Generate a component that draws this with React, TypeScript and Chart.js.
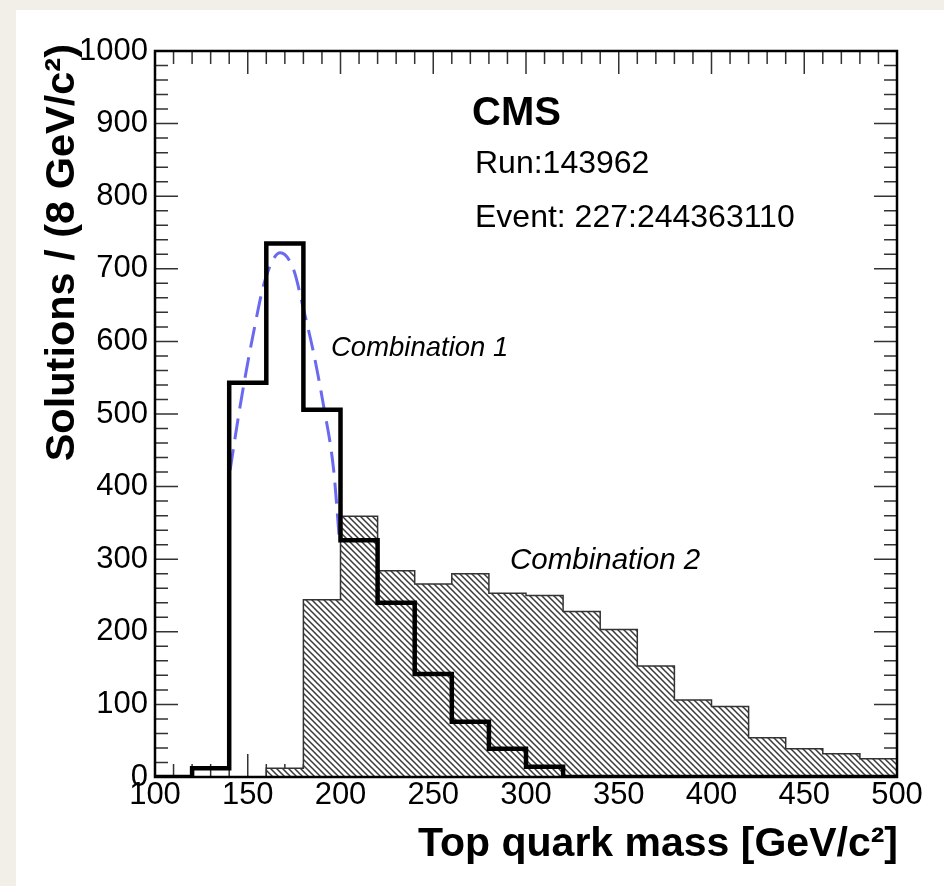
import React, { useEffect, useRef } from "react";
import { Chart, registerables } from "chart.js";

Chart.register(...registerables);

// ---- data ----
const binLeftEdges = [100, 120, 140, 160, 180, 200, 220, 240, 260, 280, 300, 320, 340, 360, 380, 400, 420, 440, 460, 480];
const histUpperEdge = 500;
const comb1Counts = [0, 12, 543, 735, 506, 326, 240, 142, 76, 39, 14, 0, 0, 0, 0, 0, 0, 0, 0, 0];
const comb2Counts = [0, 0, 0, 12, 244, 359, 284, 266, 280, 253, 250, 228, 203, 153, 106, 97, 54, 39, 32, 25];
const fitMass = [140.5, 145.9, 153.1, 159.4, 167.5, 174.7, 180.1, 185.5, 190.9, 196.3, 199.5];
const fitValues = [423, 511, 612, 685, 722, 699, 644, 584, 511, 423, 324];

const xMin = 100;
const xMax = 500;
const xMajorStep = 50;
const xMinorStep = 10;
const yMin = 0;
const yMax = 1000;
const yMajorStep = 100;
const yMinorStep = 20;

const xTitle = "Top quark mass [GeV/c\u00B2]";
const yTitle = "Solutions / (8 GeV/c\u00B2)";
const experimentLabel = "CMS";
const runLabel = "Run:143962";
const eventLabel = "Event: 227:244363110";
const comb1Label = "Combination 1";
const comb2Label = "Combination 2";

const FONT = '"Liberation Sans", Arial, Helvetica, sans-serif';

// points at bin edges; value of bin i is held from edge i to edge i+1
function stepPoints(counts: number[]) {
  const pts = binLeftEdges.map((x, i) => ({ x, y: counts[i] }));
  pts.push({ x: histUpperEdge, y: counts[counts.length - 1] });
  return pts;
}

function makeHatch(): CanvasPattern | string {
  const s = 6;
  const c = document.createElement("canvas");
  c.width = s;
  c.height = s;
  const g = c.getContext("2d");
  if (!g) return "#999";
  g.fillStyle = "#ffffff";
  g.fillRect(0, 0, s, s);
  g.strokeStyle = "#3a3a3a";
  g.lineWidth = 1.5;
  g.beginPath();
  g.moveTo(-1, -1);
  g.lineTo(s + 1, s + 1);
  g.moveTo(-1, s - 1);
  g.lineTo(1, s + 1);
  g.moveTo(s - 1, -1);
  g.lineTo(s + 1, 1);
  g.stroke();
  return g.createPattern(c, "repeat") || "#999";
}

const rootAxesPlugin = {
  id: "rootAxes",
  beforeDatasetsDraw(chart: any) {
    const { ctx, chartArea: a, scales } = chart;
    const xs = scales.x;
    const ys = scales.y;
    ctx.save();
    ctx.strokeStyle = "#333";
    ctx.lineWidth = 1.5;
    ctx.beginPath();
    for (let v = yMin; v <= yMax; v += yMinorStep) {
      const len = v % yMajorStep === 0 ? 23 : 13;
      const py = ys.getPixelForValue(v);
      ctx.moveTo(a.left, py);
      ctx.lineTo(a.left + len, py);
      ctx.moveTo(a.right, py);
      ctx.lineTo(a.right - len, py);
    }
    for (let v = xMin; v <= xMax; v += xMinorStep) {
      const len = v % xMajorStep === 0 ? 23 : 13;
      const px = xs.getPixelForValue(v);
      ctx.moveTo(px, a.bottom);
      ctx.lineTo(px, a.bottom - len);
      ctx.moveTo(px, a.top);
      ctx.lineTo(px, a.top + len);
    }
    ctx.stroke();
    ctx.restore();
  },
  afterDatasetsDraw(chart: any) {
    const { ctx, chartArea: a } = chart;
    ctx.save();
    ctx.strokeStyle = "#000";
    ctx.lineWidth = 2.5;
    ctx.strokeRect(a.left, a.top, a.right - a.left, a.bottom - a.top);
    ctx.restore();
  },
  afterDraw(chart: any) {
    const { ctx } = chart;
    ctx.save();
    ctx.fillStyle = "#000";
    ctx.textBaseline = "alphabetic";
    ctx.textAlign = "left";
    ctx.font = `bold 40px ${FONT}`;
    ctx.fillText(experimentLabel, 472, 125);
    ctx.font = `32px ${FONT}`;
    ctx.fillText(runLabel, 475, 173);
    ctx.fillText(eventLabel, 475, 227);
    ctx.font = `italic 27.5px ${FONT}`;
    ctx.fillText(comb1Label, 331, 356);
    ctx.font = `italic 29.5px ${FONT}`;
    ctx.fillText(comb2Label, 510, 569);
    ctx.font = `bold 41px ${FONT}`;
    ctx.textAlign = "right";
    ctx.fillText(xTitle, 898, 856);
    ctx.font = `bold 41.5px ${FONT}`;
    ctx.translate(74, 44);
    ctx.rotate(-Math.PI / 2);
    ctx.textAlign = "right";
    ctx.fillText(yTitle, 0, 0);
    ctx.restore();
  },
};

export default function App() {
  const canvasRef = useRef<HTMLCanvasElement | null>(null);

  useEffect(() => {
    const canvas = canvasRef.current;
    if (!canvas) return;
    const hatch = makeHatch();
    const chart = new Chart(canvas, {
      type: "line",
      data: {
        datasets: [
          {
            label: comb1Label,
            data: stepPoints(comb1Counts),
            stepped: "before",
            borderColor: "#000",
            borderWidth: 4.5,
            pointRadius: 0,
            fill: false,
            order: 0,
          },
          {
            label: "fit",
            data: fitMass.map((x, i) => ({ x, y: fitValues[i] })),
            borderColor: "#6a6af0",
            borderWidth: 3,
            borderDash: [21, 10],
            cubicInterpolationMode: "monotone",
            pointRadius: 0,
            fill: false,
            order: 1,
          },
          {
            label: comb2Label,
            data: stepPoints(comb2Counts),
            stepped: "before",
            borderColor: "#333",
            borderWidth: 1.5,
            backgroundColor: hatch as any,
            pointRadius: 0,
            fill: "origin",
            order: 2,
          },
        ],
      } as any,
      options: {
        animation: false,
        responsive: false,
        devicePixelRatio: 1,
        layout: { padding: { top: 51, right: 47, left: 0, bottom: 0 } },
        plugins: {
          legend: { display: false },
          tooltip: { enabled: false },
          title: { display: false },
        },
        scales: {
          x: {
            type: "linear",
            min: xMin,
            max: xMax,
            border: { display: false },
            grid: { display: false, drawTicks: false },
            ticks: {
              stepSize: xMajorStep,
              autoSkip: false,
              maxRotation: 0,
              padding: 0,
              color: "#000",
              font: { family: FONT, size: 31 },
              callback: (v: any) => String(v),
            },
            afterFit(scale: any) {
              scale.height = 109;
            },
          },
          y: {
            type: "linear",
            min: yMin,
            max: yMax,
            border: { display: false },
            grid: { display: false, drawTicks: false },
            ticks: {
              stepSize: yMajorStep,
              autoSkip: false,
              padding: 7,
              color: "#000",
              font: { family: FONT, size: 31 },
              callback: (v: any) => String(v),
            },
            afterFit(scale: any) {
              scale.width = 155;
            },
          },
        },
      } as any,
      plugins: [rootAxesPlugin],
    });
    return () => chart.destroy();
  }, []);

  return (
    <div style={{ position: "fixed", left: 0, top: 0, width: 944, height: 886, background: "#f2efe9", overflow: "hidden" }}>
      <div style={{ position: "absolute", left: 16, top: 10, right: 0, bottom: 0, background: "#ffffff" }} />
      <canvas ref={canvasRef} width={944} height={886} style={{ position: "absolute", left: 0, top: 0, width: 944, height: 886 }} />
    </div>
  );
}
